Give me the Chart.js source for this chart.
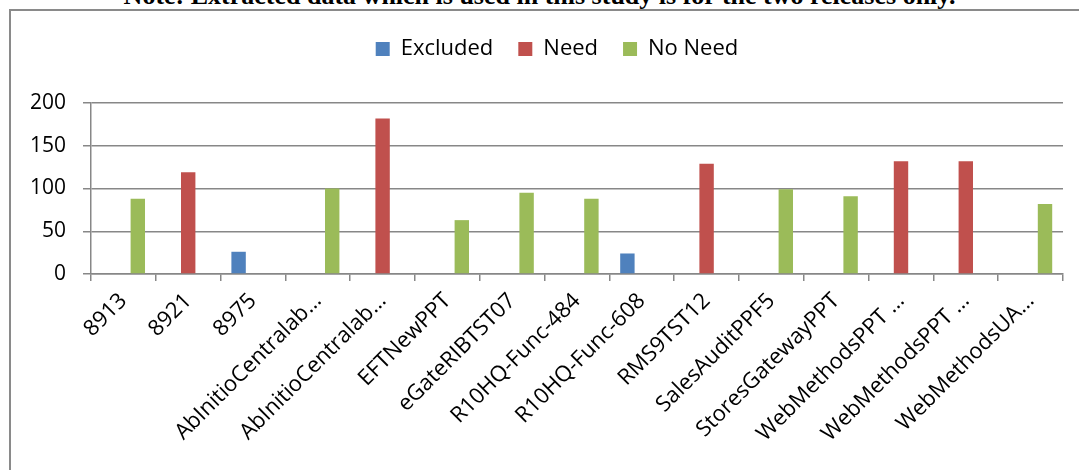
<!DOCTYPE html>
<html>
<head>
<meta charset="utf-8">
<script src="https://cdn.jsdelivr.net/npm/chart.js@4.4.1/dist/chart.umd.min.js"></script>
<style>
  html, body { margin: 0; padding: 0; background: #ffffff; width: 1079px; height: 470px; overflow: hidden; }
  #title { position: absolute; left: 0; width: 1079px; top: -17px; text-align: center;
           font-family: "Liberation Serif", "Times New Roman", serif; font-weight: bold; font-size: 26px;
           line-height: 26px; color: #000; white-space: nowrap; }
  #frame { position: absolute; left: 9px; top: 9px; width: 1200px; height: 600px;
           border-left: 2px solid #8a8a8a; border-top: 2px solid #8a8a8a; }
  #wrap { position: absolute; left: 0; top: 0; width: 1079px; height: 470px; }
</style>
</head>
<body>
<div id="title">Note: Extracted data which is used in this study is for the two releases only.</div>
<div id="frame"></div>
<div id="wrap"><canvas id="c" width="1079" height="470"></canvas></div>
<script>
const categories = ["8913", "8921", "8975", "AbInitioCentralab…", "AbInitioCentralab…", "EFTNewPPT",
  "eGateRIBTST07", "R10HQ-Func-484", "R10HQ-Func-608", "RMS9TST12", "SalesAuditPPF5",
  "StoresGatewayPPT", "WebMethodsPPT …", "WebMethodsPPT …", "WebMethodsUA…"];
const excluded = [null, null, 26, null, null, null, null, null, 24, null, null, null, null, null, null];
const need     = [null, 119, null, null, 182, null, null, null, null, 129, null, null, 132, 132, null];
const noNeed   = [88, null, null, 100, null, 63, 95, 88, null, null, 99, 91, null, null, 82];
const yTicks = [0, 50, 100, 150, 200];

const FONT = "'Open Sans', 'Noto Sans', sans-serif";
const GRID = '#878787';

const legendSpace = {
  id: 'legendSpace',
  beforeLayout(chart) {
    const lg = chart.legend;
    if (lg && !lg._spaced) {
      const f = lg.fit;
      lg.fit = function () { f.call(this); this.height += 33; };
      lg._spaced = true;
    }
  },
  afterLayout(chart) {
    if (chart.legend) { chart.legend.left = 51; }
  }
};

new Chart(document.getElementById('c'), {
  type: 'bar',
  data: {
    labels: categories,
    datasets: [
      { label: 'Excluded', data: excluded, backgroundColor: '#4F81BD' },
      { label: 'Need', data: need, backgroundColor: '#C0504D' },
      { label: 'No Need', data: noNeed, backgroundColor: '#9BBB59' }
    ]
  },
  options: {
    responsive: false,
    animation: false,
    devicePixelRatio: 1,
    layout: { padding: { left: 0, right: 16, top: 13, bottom: 0 } },
    datasets: { bar: { categoryPercentage: 0.667, barPercentage: 1.0, skipNull: false } },
    plugins: {
      legend: {
        position: 'top',
        labels: { font: { family: FONT, size: 22 }, color: '#000', boxWidth: 14, boxHeight: 14, padding: 25 }
      },
      tooltip: { enabled: false },
      title: { display: false }
    },
    scales: {
      x: {
        grid: { offset: true, drawOnChartArea: false, drawTicks: true, tickLength: 7, color: GRID, lineWidth: 1.5 },
        border: { display: true, color: GRID, width: 1.5 },
        ticks: { font: { family: FONT, size: 22 }, color: '#000', minRotation: 45, maxRotation: 45, autoSkip: false, padding: 7 },
        afterFit(s) { s.height = 196; }
      },
      y: {
        min: 0, max: 200,
        afterBuildTicks(s) { s.ticks = yTicks.map(v => ({ value: v })); },
        grid: { color: GRID, lineWidth: 1.5, tickLength: 8, drawTicks: true },
        border: { display: true, color: GRID, width: 1.5 },
        ticks: { font: { family: FONT, size: 21 }, color: '#000', padding: 17 },
        afterFit(s) { s.width = 91; }
      }
    }
  },
  plugins: [legendSpace]
});
</script>
</body>
</html>
